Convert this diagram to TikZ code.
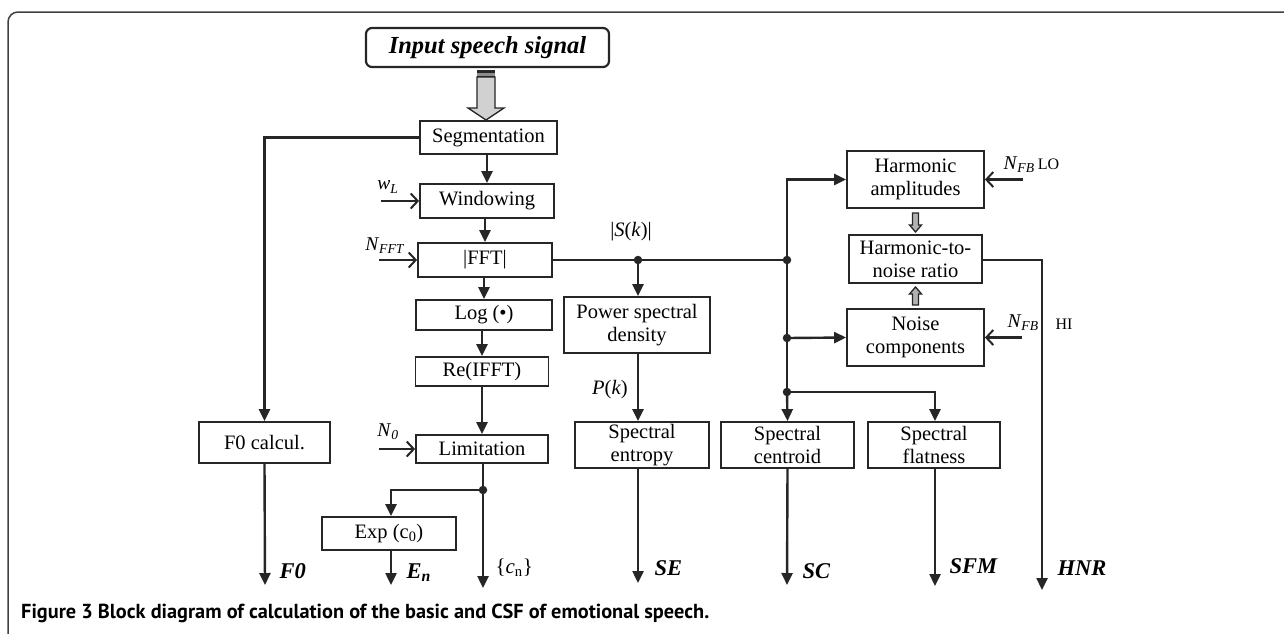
\documentclass[tikz,border=0pt]{standalone}
\usepackage{fontspec}
\setmainfont{Liberation Serif}
\newfontfamily\capfont{PT Sans}
\usetikzlibrary{arrows.meta,calc}

\tikzset{
  blk/.style={draw=black!85, line width=1.8pt, inner sep=0pt, align=center,
    font=\fontsize{20.5}{23}\selectfont},
  conn/.style={line width=2.4pt, draw=black!85},
  flow/.style={conn, -{Triangle[length=12pt,width=11pt]}},
  feed/.style={conn, -{Straight Barb[length=7pt,width=15pt,line width=2pt]}},
  junc/.style={circle, fill=black!85, inner sep=0pt, minimum size=8.5pt},
  outlab/.style={font=\fontsize{22.5}{22}\selectfont\bfseries\itshape},
  sym/.style={font=\fontsize{19.5}{19}\selectfont},
  hollow/.style={draw=black!85, line width=1.3pt, fill=black!30},
}

\begin{document}
\begin{tikzpicture}[x=1pt,y=-1pt]
\useasboundingbox (0,0) rectangle (1284,633);
\clip (0,0) rectangle (1284,633);

% frame
\draw[black!75, line width=1.5pt, rounded corners=10pt] (8,650) -- (8,12) -- (1300,12);

% blocks
\node[blk, rounded corners=6pt, line width=2.2pt, minimum width=243pt, minimum height=39pt,
  font=\fontsize{24.5}{26}\selectfont\bfseries\itshape] (in) at (487.5,47.5) {Input speech signal};
\node[blk, minimum width=137pt, minimum height=33pt] (seg) at (488.5,137.5) {Segmentation};
\node[blk, minimum width=134pt, minimum height=34pt] (win) at (487,201) {Windowing};
\node[blk, minimum width=134pt, minimum height=34pt] (fft) at (485,260) {|FFT|};
\node[blk, minimum width=136pt, minimum height=30pt] (log) at (484,315) {Log (•)};
\node[blk, minimum width=133pt, minimum height=29pt] (re) at (482,371.5) {Re(IFFT)};
\node[blk, minimum width=132pt, minimum height=28pt] (lim) at (482,449) {Limitation};
\node[blk, minimum width=131pt, minimum height=41pt] (f0) at (264.5,442.5) {F0 calcul.};
\node[blk, minimum width=134pt, minimum height=33pt] (exp) at (389,533.5) {Exp (c\textsubscript{0})};
\node[blk, minimum width=146pt, minimum height=56pt] (psd) at (637,325) {Power spectral\\density};
\node[blk, minimum width=134pt, minimum height=46pt] (se) at (642,445) {Spectral\\entropy};
\node[blk, minimum width=133pt, minimum height=46pt] (sc) at (787.5,445) {Spectral\\centroid};
\node[blk, minimum width=132pt, minimum height=46pt] (sf) at (934,445) {Spectral\\flatness};
\node[blk, minimum width=137pt, minimum height=57pt] (ha) at (915.5,179.5) {Harmonic\\amplitudes};
\node[blk, minimum width=133pt, minimum height=48pt] (hnr) at (915.5,259) {Harmonic-to-\\noise ratio};
\node[blk, minimum width=137pt, minimum height=57pt] (nc) at (915.5,337.5) {Noise\\components};

% input block arrow
\draw[draw=black!85, line width=1.3pt, fill=black!18]
  (477,77) -- (477,108) -- (468,108) -- (486,120) -- (504,108) -- (495,108) -- (495,77) -- cycle;
\fill[black!85] (477,70) rectangle (495,73);
\fill[black!45] (477,73) rectangle (495,76);
\draw[black!85, line width=1.2pt] (477,76.5) -- (495,76.5);

% small block arrows between the harmonic/noise blocks
\draw[hollow] (912.5,213) -- (912.5,225) -- (909.5,225) -- (915.5,232) -- (921.5,225) -- (918.5,225) -- (918.5,213) -- cycle;
\draw[hollow] (912.5,305) -- (912.5,294) -- (909.5,294) -- (915.5,287) -- (921.5,294) -- (918.5,294) -- (918.5,305) -- cycle;

% junctions
\node[junc] (d1) at (483,490) {};
\node[junc] (d2) at (638,260) {};
\node[junc] (d3) at (787,260) {};
\node[junc] (d4) at (787,338) {};
\node[junc] (d5) at (787,392) {};

% free ends
\coordinate (f0out) at (265,585);
\coordinate (enout) at (391,585);
\coordinate (cnout) at (483,588);
\coordinate (seout) at (638,583);
\coordinate (scout) at (787,585);
\coordinate (sfout) at (935,586);
\coordinate (hnrout) at (1042,590);
\coordinate (hnrturn) at (1042,260);
\coordinate (expturn) at (391,490);
\coordinate (sfturn) at (935,392);
\coordinate (haturn) at (787,179.5);
\coordinate (wlin) at (381,201);
\coordinate (nfftin) at (379,260);
\coordinate (n0in) at (379,449);
\coordinate (loin) at (1023,179.5);
\coordinate (hiin) at (1022,337.5);

% main chain
\draw[flow] (seg.west) -| (f0.north);
\draw[flow] (f0.south) -- (f0out);
\draw[flow] (seg.south -| win.north) -- (win.north);
\draw[flow] (win.south -| fft.north) -- (fft.north);
\draw[flow] (fft.south -| log.north) -- (log.north);
\draw[flow] (log.south -| re.north) -- (re.north);
\draw[flow] (re.south -| lim.north) -- (lim.north);
\draw[conn] (lim.south -| d1) -- (d1.center);
\draw[flow] (d1.center) -- (cnout);
\draw[flow] (d1.center) -- (expturn) -- (expturn |- exp.north);
\draw[flow] (exp.south -| enout) -- (enout);

% spectral branch
\draw[conn] (fft.east) -- (d2.center) -- (d3.center);
\draw[flow] (d2.center) -- (d2 |- psd.north);
\draw[flow] (psd.south -| d2) -- (d2 |- se.north);
\draw[flow] (se.south -| seout) -- (seout);
\draw[flow] (d3.center) -- (haturn) -- (ha.west);
\draw[conn] (d3.center) -- (d5.center);
\draw[flow] (d4.center) -- (nc.west);
\draw[flow] (d5.center) -- (sc.north);
\draw[flow] (d5.center) -- (sfturn) -- (sfturn |- sf.north);
\draw[flow] (sc.south) -- (scout);
\draw[flow] (sf.south -| sfout) -- (sfout);
\draw[flow] (hnr.east |- hnrturn) -- (hnrturn) -- (hnrout);

% parameter inputs
\draw[feed] (wlin) -- (win.west);
\draw[feed] (nfftin) -- (fft.west);
\draw[feed] (n0in) -- (lim.west);
\draw[feed] (loin) -- (ha.east);
\draw[feed] (hiin) -- (nc.east);

% parameter and signal labels
\node[sym] (lwl) at (388,187) {\textit{w}\textsubscript{\textit{L}}};
\node[sym] (lnfft) at (385,246) {\textit{N}\textsubscript{\textit{FFT}}};
\node[sym] (ln0) at (388,432) {\textit{N}\textsubscript{\textit{0}}};
\node[sym, font=\fontsize{20.5}{20}\selectfont] (lsk) at (631,232) {|\textit{S}(\textit{k})|};
\node[sym, font=\fontsize{20.5}{20}\selectfont] (lpk) at (610,390) {\textit{P}(\textit{k})};
\node[sym, anchor=west] (llo) at (1000,165) {\textit{N}\textsubscript{\textit{FB}}\,{\fontsize{16}{16}\selectfont LO}};
\node[sym, anchor=west] (lhin) at (1004,323) {\textit{N}\textsubscript{\textit{FB}}};
\node[anchor=west, font=\fontsize{16}{16}\selectfont] (lhi) at (1052,324) {HI};

% output labels
\node[outlab, anchor=west] (lf0) at (276,571) {F0};
\node[outlab, anchor=west] (len) at (403,573) {E\textsubscript{\textit{n}}};
\node[anchor=west, font=\fontsize{21}{20}\selectfont] (lcn) at (492,568) {\{\textit{c}\textsubscript{n}\}};
\node[outlab, anchor=west] (lse) at (651,568) {SE};
\node[outlab, anchor=west] (lsc) at (799,571) {SC};
\node[outlab, anchor=west] (lsfm) at (946,566) {SFM};
\node[outlab, anchor=west] (lhnr) at (1054,568) {HNR};

% caption
\node[anchor=base west, inner sep=0pt, font=\capfont\bfseries\fontsize{20.3}{20}\selectfont] (cap) at (21,618)
  {Figure 3 Block diagram of calculation of the basic and CSF of emotional speech.};
\end{tikzpicture}
\end{document}
